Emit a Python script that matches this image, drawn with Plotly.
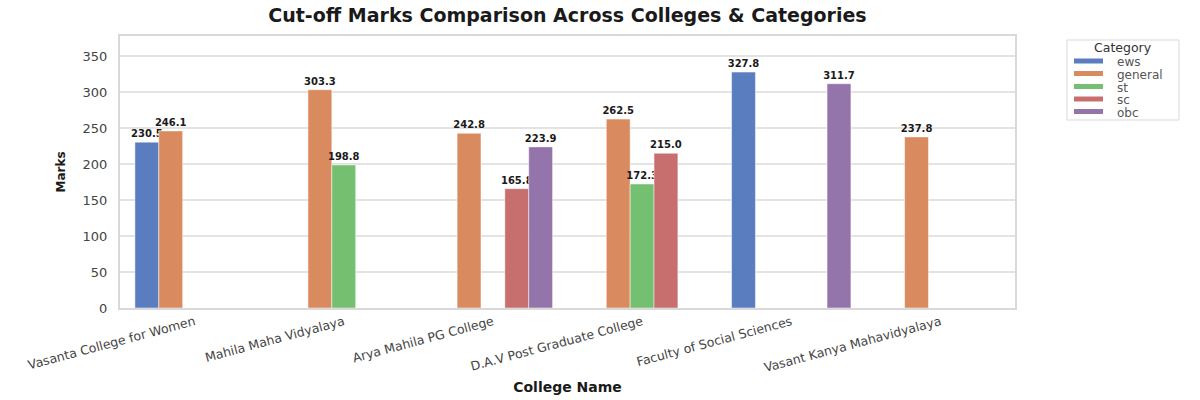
import plotly.graph_objects as go

colleges = [
    "Vasanta College for Women",
    "Mahila Maha Vidyalaya",
    "Arya Mahila PG College",
    "D.A.V Post Graduate College",
    "Faculty of Social Sciences",
    "Vasant Kanya Mahavidyalaya",
]
categories = ["ews", "general", "st", "sc", "obc"]
ews = [230.5, None, None, None, 327.8, None]
general = [246.1, 303.3, 242.8, 262.5, None, 237.8]
st = [None, 198.8, None, 172.3, None, None]
sc = [None, None, 165.8, 215.0, None, None]
obc = [None, None, 223.9, None, 311.7, None]
series = [ews, general, st, sc, obc]
colors = ["#597dbf", "#d98b5f", "#74bf70", "#c76e6e", "#9475ab"]
y_ticks = [0, 50, 100, 150, 200, 250, 300, 350]

FONT = "DejaVu Sans"
W, H = 1200, 400
L, R, T, B = 120, 1015, 36, 308  # plot area in pixels


def px(x):
    return (x - L) / (R - L)


def py(y):
    return (B - y) / (B - T)


fig = go.Figure()
for name, vals, col in zip(categories, series, colors):
    fig.add_trace(go.Bar(
        x=colleges, y=vals, name=name,
        marker=dict(color=col, line=dict(color="rgba(255,255,255,0.6)", width=0.8)),
        texttemplate="%{y:.1f}", textposition="outside", textangle=0,
        constraintext="none", cliponaxis=False,
        textfont=dict(family=FONT, size=10, color="#1a1a1a", weight="bold"),
        showlegend=False,
    ))

# legend drawn manually (matplotlib-style compact legend)
shapes = [dict(type="rect", xref="paper", yref="paper",
               x0=px(1067), x1=px(1179), y0=py(120), y1=py(40),
               line=dict(color="#d9d9d9", width=1), fillcolor="white", layer="above")]
annotations = [dict(text="Category", xref="paper", yref="paper",
                    x=px(1123), y=py(48), xanchor="center", yanchor="middle",
                    showarrow=False, font=dict(family=FONT, size=12.5, color="#333"))]
entry_y = [61, 73.5, 86.5, 99, 111.5]
for name, col, ey in zip(categories, colors, entry_y):
    shapes.append(dict(type="rect", xref="paper", yref="paper",
                       x0=px(1074), x1=px(1103), y0=py(ey + 2.5), y1=py(ey - 2.5),
                       line=dict(width=0), fillcolor=col, layer="above"))
    annotations.append(dict(text=name, xref="paper", yref="paper",
                            x=px(1115), y=py(ey + 1), xanchor="left", yanchor="middle",
                            showarrow=False, font=dict(family=FONT, size=12, color="#555")))

fig.update_layout(
    width=W, height=H,
    margin=dict(l=L, r=W - R, t=T, b=H - B),
    paper_bgcolor="white", plot_bgcolor="white",
    barmode="group", bargap=0.2, bargroupgap=0,
    font=dict(family=FONT, size=11, color="#444"),
    title=dict(
        text="Cut-off Marks Comparison Across Colleges & Categories",
        font=dict(family=FONT, size=19, color="#1a1a1a", weight="bold"),
        x=(L + R) / 2 / W, xanchor="center", y=0.962, yanchor="middle",
    ),
    showlegend=False,
    shapes=shapes,
    annotations=annotations,
)
fig.update_xaxes(
    type="category", tickangle=-15, showgrid=False, automargin=False,
    showline=True, mirror=True, linecolor="#d9d9d9", linewidth=2,
    ticks="", tickfont=dict(family=FONT, size=12.5, color="#444"),
    title=dict(text="College Name", standoff=8,
               font=dict(family=FONT, size=14, color="#1a1a1a", weight="bold")),
)
fig.update_yaxes(
    range=[0, 378], tickvals=y_ticks, showgrid=True, gridcolor="#e3e3e3", gridwidth=1.5,
    showline=True, mirror=True, linecolor="#d9d9d9", linewidth=2, automargin=False,
    zeroline=False, ticks="", ticklabelstandoff=8,
    tickfont=dict(family=FONT, size=13, color="#444"),
    title=dict(text="Marks", standoff=14,
               font=dict(family=FONT, size=12, color="#1a1a1a", weight="bold")),
)

fig.write_html("out.html")
